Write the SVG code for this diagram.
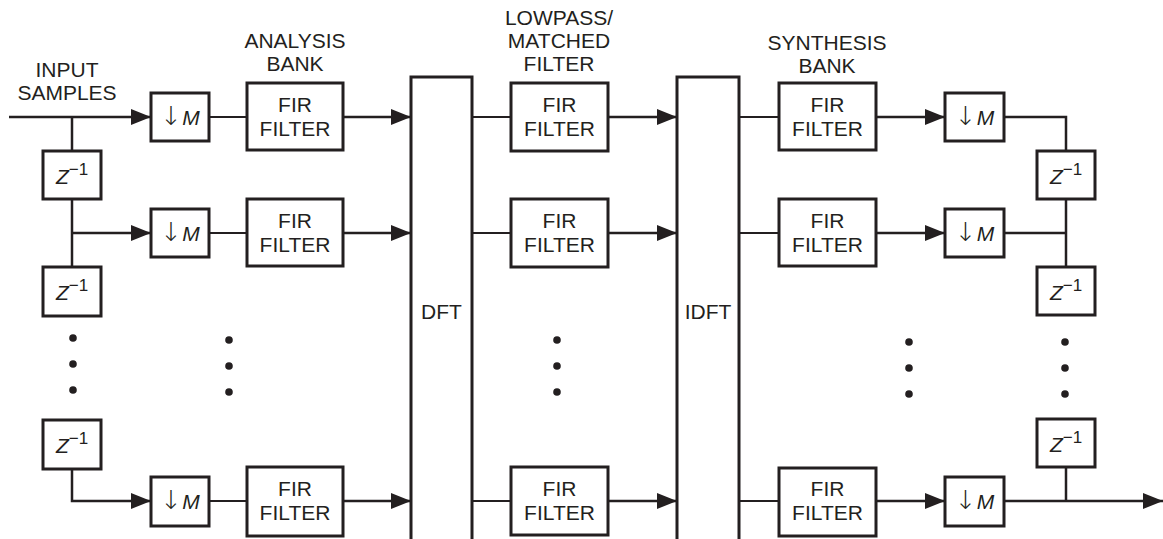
<svg xmlns="http://www.w3.org/2000/svg" width="1163" height="539" viewBox="0 0 1163 539">
<defs>
<marker id="arr" markerUnits="userSpaceOnUse" markerWidth="20" markerHeight="16" refX="20" refY="8" orient="auto"><path d="M0,0 L20,8 L0,16 z" fill="#231f20"/></marker>
<style>
.box{fill:#fff;stroke:#231f20;stroke-width:3}
.ln{fill:none;stroke:#231f20;stroke-width:2.5}
.thin{fill:none;stroke:#231f20;stroke-width:1.8}
.t{font-family:"Liberation Sans",Arial,sans-serif;font-size:21px;fill:#231f20;text-anchor:middle}
.it{font-style:italic}
.ar{font-family:"DejaVu Sans",sans-serif;font-size:26px;font-weight:200}
.sup{font-size:17px}
.dot{fill:#231f20}
</style>
</defs>
<rect width="1163" height="539" fill="#fff"/>
<g id="labels">
<text class="t" x="67" y="77">INPUT</text><text class="t" x="67" y="100">SAMPLES</text>
<text class="t" x="295" y="48">ANALYSIS</text><text class="t" x="295" y="71">BANK</text>
<text class="t" x="559" y="25">LOWPASS/</text><text class="t" x="559" y="48">MATCHED</text><text class="t" x="559" y="71">FILTER</text>
<text class="t" x="827" y="50">SYNTHESIS</text><text class="t" x="827" y="73">BANK</text>
</g>
<g id="connectors">
<line class="ln" x1="9" y1="117" x2="151" y2="117" marker-end="url(#arr)"/>
<polyline class="ln" points="72,117 72,151"/>
<polyline class="ln" points="72,199 72,267"/>
<line class="ln" x1="72" y1="233" x2="151" y2="233" marker-end="url(#arr)"/>
<polyline class="ln" points="72,469 72,501 151,501" marker-end="url(#arr)"/>
<line class="thin" x1="209" y1="117" x2="247" y2="117"/>
<line class="thin" x1="209" y1="233" x2="247" y2="233"/>
<line class="thin" x1="209" y1="501" x2="247" y2="501"/>
<line class="ln" x1="343" y1="117" x2="411" y2="117" marker-end="url(#arr)"/>
<line class="ln" x1="343" y1="233" x2="411" y2="233" marker-end="url(#arr)"/>
<line class="ln" x1="343" y1="501" x2="411" y2="501" marker-end="url(#arr)"/>
<line class="thin" x1="472" y1="117" x2="511" y2="117"/>
<line class="thin" x1="472" y1="233" x2="511" y2="233"/>
<line class="thin" x1="472" y1="501" x2="511" y2="501"/>
<line class="ln" x1="608" y1="117" x2="677" y2="117" marker-end="url(#arr)"/>
<line class="ln" x1="608" y1="233" x2="677" y2="233" marker-end="url(#arr)"/>
<line class="ln" x1="608" y1="501" x2="677" y2="501" marker-end="url(#arr)"/>
<line class="thin" x1="739" y1="117" x2="779" y2="117"/>
<line class="thin" x1="739" y1="233" x2="779" y2="233"/>
<line class="thin" x1="739" y1="501" x2="779" y2="501"/>
<line class="ln" x1="876" y1="117" x2="945" y2="117" marker-end="url(#arr)"/>
<line class="ln" x1="876" y1="233" x2="945" y2="233" marker-end="url(#arr)"/>
<line class="ln" x1="876" y1="501" x2="945" y2="501" marker-end="url(#arr)"/>
<polyline class="ln" points="1004,117 1066,117 1066,151"/>
<polyline class="ln" points="1066,199 1066,267"/>
<line class="ln" x1="1004" y1="233" x2="1066" y2="233"/>
<line class="ln" x1="1066" y1="467" x2="1066" y2="501"/>
<line class="ln" x1="1004" y1="501" x2="1163" y2="501" marker-end="url(#arr)"/>
</g>
<g id="dots">
<circle class="dot" cx="73" cy="338" r="3.8"/><circle class="dot" cx="73" cy="364" r="3.8"/><circle class="dot" cx="73" cy="390" r="3.8"/>
<circle class="dot" cx="229" cy="340" r="3.8"/><circle class="dot" cx="229" cy="366" r="3.8"/><circle class="dot" cx="229" cy="392" r="3.8"/>
<circle class="dot" cx="557" cy="340" r="3.8"/><circle class="dot" cx="557" cy="366" r="3.8"/><circle class="dot" cx="557" cy="392" r="3.8"/>
<circle class="dot" cx="909" cy="342" r="3.8"/><circle class="dot" cx="909" cy="368" r="3.8"/><circle class="dot" cx="909" cy="394" r="3.8"/>
<circle class="dot" cx="1065" cy="342" r="3.8"/><circle class="dot" cx="1065" cy="368" r="3.8"/><circle class="dot" cx="1065" cy="394" r="3.8"/>
</g>
<g id="zin1"><rect class="box" x="43" y="151" width="58" height="48"/><text class="t" x="72" y="184"><tspan class="it">Z</tspan><tspan class="sup" dy="-9">−1</tspan></text></g>
<g id="zin2"><rect class="box" x="43" y="267" width="58" height="49"/><text class="t" x="72" y="300"><tspan class="it">Z</tspan><tspan class="sup" dy="-9">−1</tspan></text></g>
<g id="zin3"><rect class="box" x="43" y="420" width="58" height="49"/><text class="t" x="72" y="453"><tspan class="it">Z</tspan><tspan class="sup" dy="-9">−1</tspan></text></g>
<g id="dec1"><rect class="box" x="151" y="93" width="58" height="48"/><text class="t" x="180" y="125"><tspan class="ar">↓</tspan><tspan class="it">M</tspan></text></g>
<g id="dec2"><rect class="box" x="151" y="209" width="58" height="48"/><text class="t" x="180" y="241"><tspan class="ar">↓</tspan><tspan class="it">M</tspan></text></g>
<g id="dec3"><rect class="box" x="151" y="477" width="58" height="49"/><text class="t" x="180" y="509"><tspan class="ar">↓</tspan><tspan class="it">M</tspan></text></g>
<g id="afir1"><rect class="box" x="247" y="83" width="96" height="67"/><text class="t" x="295" y="112">FIR</text><text class="t" x="295" y="136">FILTER</text></g>
<g id="afir2"><rect class="box" x="247" y="199" width="96" height="67"/><text class="t" x="295" y="228">FIR</text><text class="t" x="295" y="252">FILTER</text></g>
<g id="afir3"><rect class="box" x="247" y="467" width="96" height="69"/><text class="t" x="295" y="496">FIR</text><text class="t" x="295" y="520">FILTER</text></g>
<g id="dft"><rect class="box" x="411" y="77" width="61" height="470"/><text class="t" x="441.5" y="319">DFT</text></g>
<g id="mfir1"><rect class="box" x="511" y="83" width="97" height="68"/><text class="t" x="559.5" y="112">FIR</text><text class="t" x="559.5" y="136">FILTER</text></g>
<g id="mfir2"><rect class="box" x="511" y="199" width="97" height="68"/><text class="t" x="559.5" y="228">FIR</text><text class="t" x="559.5" y="252">FILTER</text></g>
<g id="mfir3"><rect class="box" x="511" y="467" width="97" height="68"/><text class="t" x="559.5" y="496">FIR</text><text class="t" x="559.5" y="520">FILTER</text></g>
<g id="idft"><rect class="box" x="677" y="77" width="62" height="470"/><text class="t" x="708" y="319">IDFT</text></g>
<g id="sfir1"><rect class="box" x="779" y="83" width="97" height="67"/><text class="t" x="827.5" y="112">FIR</text><text class="t" x="827.5" y="136">FILTER</text></g>
<g id="sfir2"><rect class="box" x="779" y="199" width="97" height="67"/><text class="t" x="827.5" y="228">FIR</text><text class="t" x="827.5" y="252">FILTER</text></g>
<g id="sfir3"><rect class="box" x="779" y="468" width="97" height="68"/><text class="t" x="827.5" y="496">FIR</text><text class="t" x="827.5" y="520">FILTER</text></g>
<g id="up1"><rect class="box" x="945" y="93" width="59" height="48"/><text class="t" x="974.5" y="125"><tspan class="ar">↓</tspan><tspan class="it">M</tspan></text></g>
<g id="up2"><rect class="box" x="945" y="209" width="59" height="48"/><text class="t" x="974.5" y="241"><tspan class="ar">↓</tspan><tspan class="it">M</tspan></text></g>
<g id="up3"><rect class="box" x="945" y="477" width="59" height="49"/><text class="t" x="974.5" y="509"><tspan class="ar">↓</tspan><tspan class="it">M</tspan></text></g>
<g id="zout1"><rect class="box" x="1037" y="151" width="58" height="48"/><text class="t" x="1066" y="184"><tspan class="it">Z</tspan><tspan class="sup" dy="-9">−1</tspan></text></g>
<g id="zout2"><rect class="box" x="1037" y="267" width="58" height="48"/><text class="t" x="1066" y="300"><tspan class="it">Z</tspan><tspan class="sup" dy="-9">−1</tspan></text></g>
<g id="zout3"><rect class="box" x="1037" y="419" width="58" height="48"/><text class="t" x="1066" y="452"><tspan class="it">Z</tspan><tspan class="sup" dy="-9">−1</tspan></text></g>
</svg>
